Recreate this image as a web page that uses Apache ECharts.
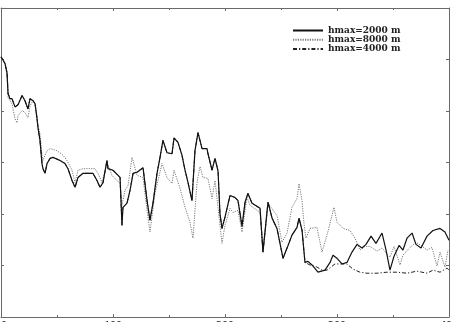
<!DOCTYPE html>
<html>
<head>
<meta charset="utf-8">
<script src="https://cdn.jsdelivr.net/npm/echarts@6/dist/echarts.min.js"></script>
<style>
html,body{margin:0;padding:0;background:#fff;}
#chart{width:451px;height:322px;}
</style>
</head>
<body>
<div id="chart"></div>
<script>
// x ticks
var xTicks = [0, 100, 200, 300, 400];
var seriesNames = ['hmax=2000 m', 'hmax=8000 m', 'hmax=4000 m'];

// hmax=2000 m (solid)
var h2000 = [[0,5.05],[1.8,4.99],[3.6,4.92],[5.4,4.74],[6.3,4.34],[8.0,4.24],[9.8,4.24],[12.5,4.08],[15.2,4.12],[18.8,4.30],[21.4,4.20],[24.1,4.04],[25.9,4.24],[28.6,4.20],[30.4,4.14],[32.1,3.87],[33.0,3.68],[34.8,3.43],[36.6,2.98],[37.5,2.88],[39.3,2.79],[41.1,2.98],[43.8,3.08],[46.4,3.10],[52.7,3.04],[57.1,2.98],[59.8,2.88],[63.4,2.65],[66.1,2.52],[68.8,2.71],[73.2,2.79],[82.1,2.79],[85.7,2.65],[88.4,2.52],[91.1,2.61],[94.6,3.04],[95.5,2.88],[100,2.85],[106.3,2.71],[108.0,1.78],[108.9,2.13],[112.5,2.21],[115.2,2.46],[117.9,2.79],[121.4,2.81],[126.8,2.90],[130.4,2.26],[133.0,1.88],[135.7,2.21],[139.3,2.79],[142.0,3.10],[144.6,3.43],[148.2,3.19],[152.7,3.17],[154.5,3.48],[158.0,3.39],[161.6,3.14],[164.3,2.85],[167.0,2.61],[170.5,2.26],[173.2,3.23],[175.9,3.58],[179.5,3.27],[183.9,3.27],[184.8,3.17],[188.4,2.85],[191.1,3.08],[193.8,2.83],[195.5,2.01],[197.3,1.72],[200,1.94],[204.5,2.36],[208.9,2.32],[211.6,2.26],[215.2,1.76],[217.9,2.23],[220.5,2.40],[224.1,2.21],[231.3,2.11],[233.9,1.26],[238.4,2.23],[242.0,1.92],[246.4,1.72],[251.8,1.14],[256.3,1.39],[259.8,1.59],[264.3,1.74],[266.1,1.92],[268.8,1.68],[271.4,1.06],[274.1,1.08],[277.7,1.01],[283.0,0.87],[289.3,0.91],[293.8,1.06],[296.4,1.20],[300,1.14],[304.5,1.03],[308.9,1.06],[313.4,1.26],[317.9,1.41],[322.3,1.34],[325.9,1.41],[330.4,1.57],[334.8,1.43],[340.2,1.63],[343.8,1.30],[347.3,0.91],[350.9,1.18],[355.4,1.39],[358.9,1.30],[362.5,1.53],[367.0,1.63],[370.5,1.41],[375.0,1.34],[380.4,1.57],[385.7,1.68],[392.0,1.72],[396.4,1.65],[400,1.49]];

// hmax=8000 m (dotted)
var h8000 = [[0,5.05],[1.8,4.99],[3.6,4.92],[5.4,4.68],[6.3,4.26],[9.8,4.14],[12.5,3.85],[14.3,3.77],[15.2,3.91],[18.8,4.01],[21.4,3.97],[24.1,3.87],[25.9,4.10],[28.6,4.20],[30.4,4.14],[32.1,3.81],[34.8,3.56],[36.6,3.14],[37.5,3.04],[41.1,3.23],[43.8,3.27],[50.0,3.23],[55.4,3.14],[58.9,3.04],[63.4,2.85],[66.1,2.61],[68.8,2.85],[73.2,2.88],[83.9,2.88],[86.6,2.79],[90.2,2.61],[94.6,3.00],[99.1,2.75],[106.3,2.59],[108.0,2.17],[110.7,2.46],[113.4,2.55],[117.0,3.10],[121.4,2.75],[126.8,2.71],[130.4,2.07],[133.0,1.65],[137.5,2.40],[143.75,2.98],[148.2,2.71],[152.7,2.59],[154.5,2.85],[159.8,2.50],[164.3,2.13],[168.75,1.84],[171.4,1.53],[175.0,2.61],[177.7,2.92],[180.4,2.71],[184.8,2.69],[188.4,2.30],[191.1,2.65],[193.75,2.13],[197.3,1.43],[200,1.78],[204.5,2.11],[207.1,2.03],[211.6,2.07],[215.2,1.65],[219.6,2.32],[222.3,2.17],[231.25,2.03],[233.9,1.30],[238.4,2.21],[246.4,1.97],[250.9,1.45],[255.4,1.63],[259.8,2.13],[264.3,2.30],[266.1,2.59],[268.75,2.26],[270.5,1.82],[272.3,1.53],[275.9,1.72],[282.1,1.74],[286.6,1.26],[291.1,1.59],[295.5,1.97],[297.3,2.13],[300,1.84],[305.4,1.72],[311.6,1.68],[316.1,1.53],[320.5,1.30],[325,1.37],[329.5,1.37],[335.7,1.28],[340.2,1.34],[344.6,1.22],[347.3,1.16],[350.9,1.37],[356.25,1.01],[358.9,1.20],[365.2,1.35],[370.5,1.45],[375,1.39],[380.4,1.30],[384.8,1.35],[389.3,0.99],[392,1.26],[396.4,0.97],[399.1,1.30]];

// hmax=4000 m (dash-dot): coincides with hmax=2000 m up to x=271.4, then:
var h4000Tail = [[275.9,1.01],[282.1,0.97],[286.6,0.91],[291.1,0.91],[298.2,1.03],[302.7,1.03],[308.9,1.03],[314.3,0.93],[320.5,0.87],[326.8,0.85],[335.7,0.85],[344.6,0.87],[353.6,0.87],[362.5,0.85],[371.4,0.89],[380.4,0.85],[385.7,0.91],[392,0.87],[398.2,0.95],[400,0.91]];
var h4000 = h2000.filter(function(p){return p[0] <= 271.4;}).concat(h4000Tail);

var frameColor = '#6a6a6a';
function xAx(pos, showLabel){
  return {
    type:'value', position:pos, min:xTicks[0], max:xTicks[xTicks.length-1], interval:100,
    axisLine:{show:true, onZero:false, lineStyle:{color:frameColor, width:1}},
    axisTick:{show:true, inside:true, length:3, lineStyle:{color:frameColor}},
    minorTick:{show:true, splitNumber:2, length:2, lineStyle:{color:frameColor}},
    splitLine:{show:false},
    axisLabel:{show:showLabel, margin:3, color:'#333', fontFamily:'Liberation Serif', fontWeight:'bold', fontSize:12, alignMinLabel:'left'}
  };
}
function yAx(pos){
  return {
    type:'value', position:pos, min:0, max:6, interval:1,
    axisLine:{show:true, onZero:false, lineStyle:{color:frameColor, width:1}},
    axisTick:{show:true, inside:true, length:3, lineStyle:{color:frameColor}},
    splitLine:{show:false},
    axisLabel:{show:false}
  };
}

var chart = echarts.init(document.getElementById('chart'), null, {renderer:'canvas'});
chart.setOption({
  animation:false,
  backgroundColor:'#fff',
  grid:{left:1, right:2, top:8, bottom:5, containLabel:false, outerBoundsMode:'none'},
  legend:{
    orient:'vertical', left:287, top:21,
    data:seriesNames,
    itemWidth:30, itemHeight:8, itemGap:0.3, itemTextGap:6,
    itemStyle:{opacity:0},
    textStyle:{fontFamily:'DejaVu Serif', fontWeight:'bold', fontSize:9, lineHeight:8, color:'#222'}
  },
  xAxis:[xAx('bottom', true), xAx('top', false)],
  yAxis:[yAx('left'), yAx('right')],
  series:[
    {name:seriesNames[1], type:'line', data:h8000, showSymbol:false, symbol:'none', z:2,
      lineStyle:{color:'#7a7a7a', width:1, type:[1.2,1.2]}, itemStyle:{color:'#7a7a7a'}},
    {name:seriesNames[2], type:'line', data:h4000, showSymbol:false, symbol:'none', z:3,
      lineStyle:{color:'#222', width:1, type:[4,2,1.2,2]}, itemStyle:{color:'#222'}},
    {name:seriesNames[0], type:'line', data:h2000, showSymbol:false, symbol:'none', z:4,
      lineStyle:{color:'#111', width:1.2}, itemStyle:{color:'#111'}}
  ]
});
</script>
</body>
</html>
